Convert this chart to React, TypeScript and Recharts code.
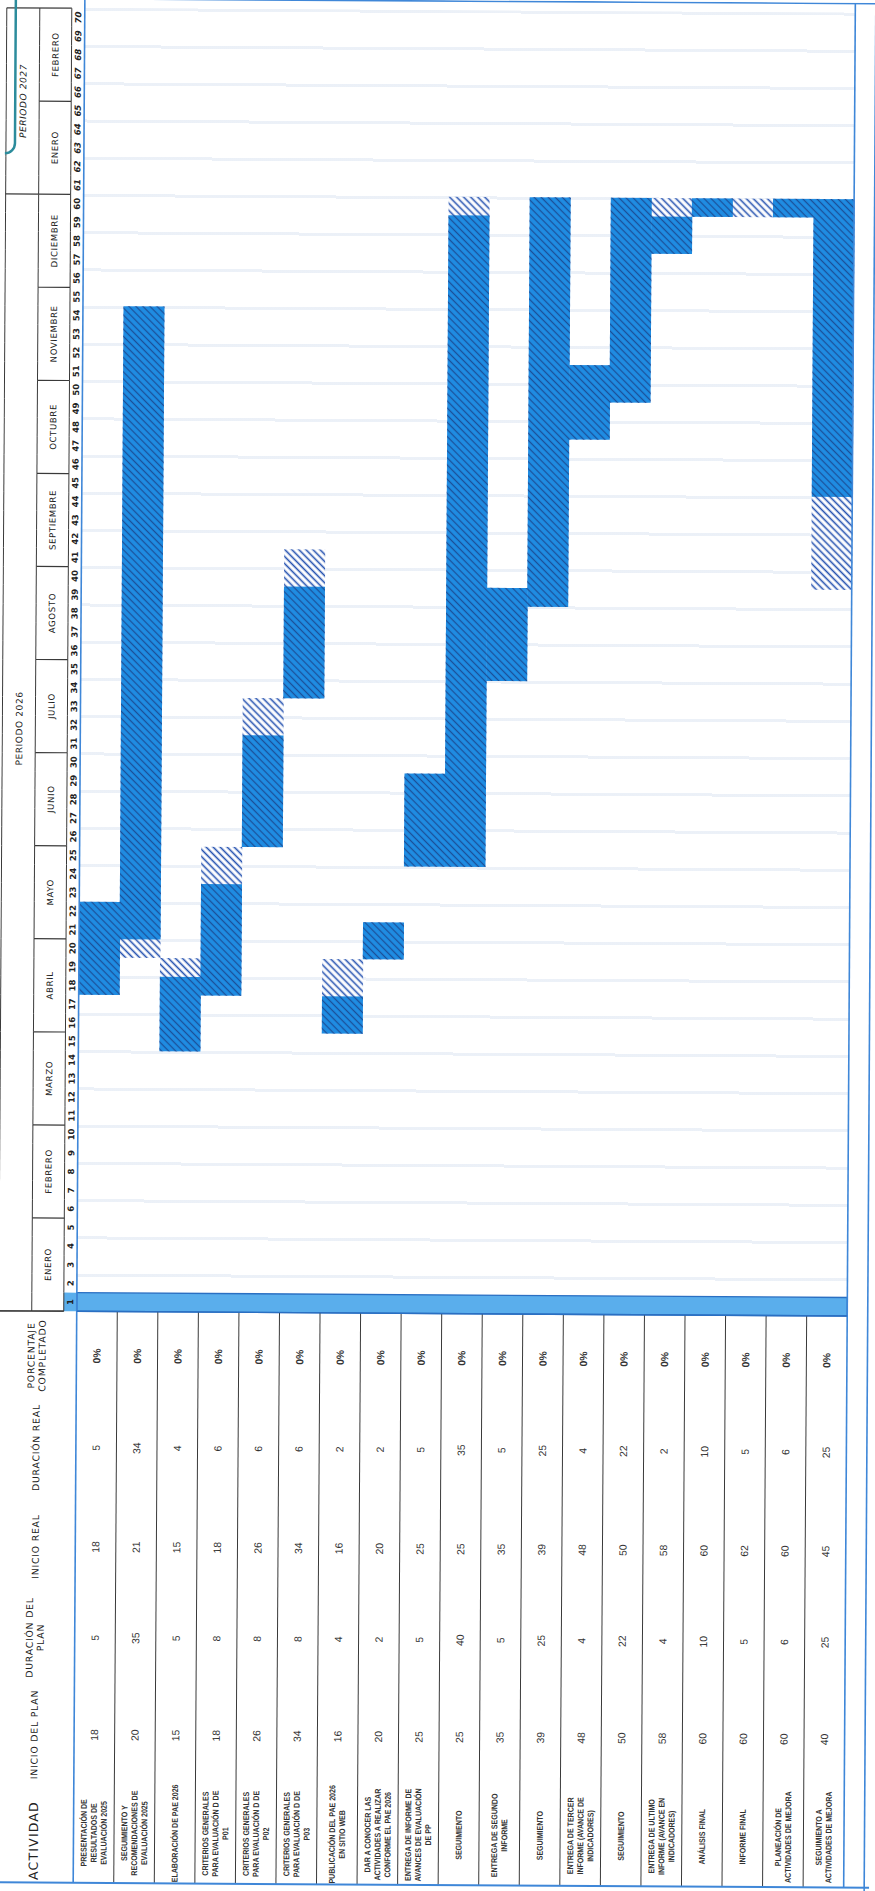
import React from 'react';
import { BarChart, Bar, XAxis, YAxis, ReferenceArea } from 'recharts';

// ---------------- data ----------------
const activities = [
  'PRESENTACIÓN DE\nRESULTADOS DE\nEVALUACIÓN 2025',
  'SEGUIMIENTO Y\nRECOMENDACIONES DE\nEVALUACIÓN 2025',
  'ELABORACIÓN DE PAE 2026',
  'CRITERIOS GENERALES\nPARA EVALUACIÓN D DE\nP01',
  'CRITERIOS GENERALES\nPARA EVALUACIÓN D DE\nP02',
  'CRITERIOS GENERALES\nPARA EVALUACIÓN D DE\nP03',
  'PUBLICACIÓN DEL PAE 2026\nEN SITIO WEB',
  'DAR A CONOCER LAS\nACTIVIDADES A REALIZAR\nCONFORME EL PAE 2026',
  'ENTREGA DE INFORME DE\nAVANCES DE EVALUACIÓN\nDE PP',
  'SEGUIMIENTO',
  'ENTREGA DE SEGUNDO\nINFORME',
  'SEGUIMIENTO',
  'ENTREGA DE TERCER\nINFORME (AVANCE DE\nINDICADORES)',
  'SEGUIMIENTO',
  'ENTREGA DE ULTIMO\nINFORME (AVANCE EN\nINDICADORES)',
  'ANÁLISIS FINAL',
  'INFORME FINAL',
  'PLANEACIÓN DE\nACTIVIDADES DE MEJORA',
  'SEGUIMIENTO A\nACTIVIDADES DE MEJORA',
];
const planStart = [18, 20, 15, 18, 26, 34, 16, 20, 25, 25, 35, 39, 48, 50, 58, 60, 60, 60, 40];
const planDuration = [5, 35, 5, 8, 8, 8, 4, 2, 5, 40, 5, 25, 4, 22, 4, 10, 5, 6, 25];
const realStart = [18, 21, 15, 18, 26, 34, 16, 20, 25, 25, 35, 39, 48, 50, 58, 60, 62, 60, 45];
const realDuration = [5, 34, 4, 6, 6, 6, 2, 2, 5, 35, 5, 25, 4, 22, 2, 10, 5, 6, 25];
const percentComplete = [0, 0, 0, 0, 0, 0, 0, 0, 0, 0, 0, 0, 0, 0, 0, 0, 0, 0, 0];

const periods = [
  1, 2, 3, 4, 5, 6, 7, 8, 9, 10, 11, 12, 13, 14, 15, 16, 17, 18, 19, 20,
  21, 22, 23, 24, 25, 26, 27, 28, 29, 30, 31, 32, 33, 34, 35, 36, 37, 38, 39, 40,
  41, 42, 43, 44, 45, 46, 47, 48, 49, 50, 51, 52, 53, 54, 55, 56, 57, 58, 59, 60,
  61, 62, 63, 64, 65, 66, 67, 68, 69, 70,
];
const months = [
  'ENERO', 'FEBRERO', 'MARZO', 'ABRIL', 'MAYO', 'JUNIO', 'JULIO', 'AGOSTO',
  'SEPTIEMBRE', 'OCTUBRE', 'NOVIEMBRE', 'DICIEMBRE', 'ENERO', 'FEBRERO',
];
const periodsPerMonth = 5;
const yearGroups = [
  { label: 'PERIODO 2026', first: 1, last: 60 },
  { label: 'PERIODO 2027', first: 61, last: 70 },
];
const lastChartedPeriod = 60; // the sheet only paints bars inside the 2026 periods
const highlightPeriod = 1;
const columnHeaders = ['INICIO DEL PLAN', 'DURACIÓN DEL\nPLAN', 'INICIO REAL', 'DURACIÓN REAL', 'PORCENTAJE\nCOMPLETADO'];

// ---------------- layout (unrotated frame: 1891 x 875) ----------------
const W = 1891;
const H = 875;
const PL = 577.5;
const PR = 1880.5;
const PT = 79;
const PB = 849.5;
const PW = (PR - PL) / 70;
const ROW_H = (PB - PT) / activities.length;
const COL_X = [154, 251, 342, 441, 533];
const ACT_X = 56;

const LINE = '#3a3a3a';
const FRAME = '#3f87d8';
const BAR_BLUE = '#1f8de3';
const HEAD_FONT = "'DejaVu Sans', 'Open Sans', sans-serif";
const LABEL_FONT = "'Liberation Sans', Arial, sans-serif";
const NUM_FONT = "'Liberation Sans', 'Open Sans', sans-serif";

function clipRange(start: number, dur: number) {
  const end = Math.min(start + dur - 1, lastChartedPeriod);
  if (end < start) return null;
  return [start - 0.5, end + 0.5];
}

const rows = activities.map((name, i) => ({
  key: 'r' + i,
  name,
  plan: clipRange(planStart[i], planDuration[i]),
  real: clipRange(realStart[i], realDuration[i]),
}));

function PeriodTick(props: any) {
  const { x, payload } = props;
  const k = payload.value as number;
  const left = x - PW / 2;
  const right = x + PW / 2;
  const els: any[] = [];
  if (k === highlightPeriod) {
    els.push(<rect key="hl" x={left} y={66} width={PW} height={PT - 66} fill="#5aaeec" />);
  }
  els.push(<line key="t" x1={left} x2={right} y1={1} y2={1} stroke={LINE} strokeWidth={1} />);
  els.push(<line key="m" x1={left} x2={right} y1={34} y2={34} stroke={LINE} strokeWidth={1} />);
  els.push(<line key="b" x1={left} x2={right} y1={66} y2={66} stroke={LINE} strokeWidth={1} />);
  els.push(
    <text key="n" x={x} y={75.5} textAnchor="middle" fontSize={8.5} fontWeight={700}
      fontStyle={k > 60 ? 'italic' : 'normal'} fill="#222" fontFamily={HEAD_FONT}>{k}</text>
  );
  if ((k - 1) % periodsPerMonth === 0) {
    const m = months[(k - 1) / periodsPerMonth];
    els.push(<line key="ml" x1={left} x2={left} y1={34} y2={66} stroke={LINE} strokeWidth={1.2} />);
    els.push(
      <text key="mt" x={left + (periodsPerMonth * PW) / 2} y={53} textAnchor="middle" fontSize={8.6}
        letterSpacing={0.6} fill="#222" fontFamily={HEAD_FONT}>{m}</text>
    );
  }
  const g = yearGroups.find((gr) => gr.first === k);
  if (g) {
    els.push(<line key="gl" x1={left} x2={left} y1={1} y2={34} stroke={LINE} strokeWidth={1.2} />);
    els.push(
      <text key="gt" x={left + ((g.last - g.first + 1) * PW) / 2 + (k === 1 ? 24 : 0)} y={21} textAnchor="middle" fontSize={9}
        fontStyle={k > 60 ? 'italic' : 'normal'} letterSpacing={0.6} fill="#222" fontFamily={HEAD_FONT}>{g.label}</text>
    );
  }
  if (k === periods[periods.length - 1]) {
    els.push(<line key="re" x1={right} x2={right} y1={1} y2={66} stroke={LINE} strokeWidth={1.2} />);
  }
  return <g>{els}</g>;
}

function RowTick(props: any) {
  const { y, index } = props;
  const i = index as number;
  const lines = activities[i].split('\n');
  const lh = 10;
  const y0 = -((lines.length - 1) * lh) / 2 + 2.9;
  const vals = [planStart[i], planDuration[i], realStart[i], realDuration[i], percentComplete[i] + '%'];
  return (
    <g>
      <g transform={`translate(${ACT_X}, ${y}) scale(0.84, 1)`}>
        {lines.map((ln, j) => (
          <text key={'l' + j} x={0} y={y0 + j * lh} textAnchor="middle" fontSize={8.4} fontWeight={700}
            fill="#333" fontFamily={LABEL_FONT}>{ln}</text>
        ))}
      </g>
      {vals.map((v, j) => (
        <text key={'v' + j} x={COL_X[j]} y={y + 3.7} textAnchor="middle" fontSize={10.4} fontWeight={j === 4 ? 700 : 400}
          fill="#333" fontFamily={NUM_FONT}>{v}</text>
      ))}
      {i < activities.length - 1 && (
        <line x1={6} x2={PL} y1={y + ROW_H / 2} y2={y + ROW_H / 2} stroke={LINE} strokeWidth={1} />
      )}
    </g>
  );
}

function Overlay() {
  return (
    <svg width={W} height={H} style={{ position: 'absolute', left: 0, top: 0, pointerEvents: 'none' }}>
      <text x={48} y={43.5} textAnchor="middle" fontSize={12.5} letterSpacing={1.2} fill="#222" fontFamily={HEAD_FONT}>ACTIVIDAD</text>
      {columnHeaders.map((h, j) => {
        const ls = h.split('\n');
        return ls.map((l, k) => (
          <text key={j + '-' + k} x={COL_X[j]} y={ls.length === 1 ? 42.5 : 37 + k * 11} textAnchor="middle"
            fontSize={9.3} letterSpacing={0.8} fill="#222" fontFamily={HEAD_FONT}>{l}</text>
        ));
      })}
      <line x1={PL} x2={PL} y1={1} y2={66} stroke={LINE} strokeWidth={1.2} />
      <line x1={6} x2={W - 1} y1={PT} y2={PT} stroke={FRAME} strokeWidth={1.6} />
      <line x1={6} x2={W - 1} y1={PB} y2={PB} stroke={FRAME} strokeWidth={1.6} />
      <line x1={W - 1} x2={W - 1} y1={PT} y2={H} stroke={FRAME} strokeWidth={1.6} />
      <line x1={PL} x2={PL} y1={PT} y2={PB} stroke="#2a6fc2" strokeWidth={1.4} />
      <line x1={6} x2={6} y1={0} y2={H} stroke={FRAME} strokeWidth={2} />
      <line x1={0} x2={W} y1={870} y2={870} stroke={FRAME} strokeWidth={1.6} />
      <rect x={1735} y={-30} width={200} height={40} rx={10} fill="none" stroke="#2c8c9c" strokeWidth={2.5} />
    </svg>
  );
}

export default function App() {
  const streak = 'rgba(200,214,234,0.35)';
  return (
    <div style={{ position: 'absolute', left: 0, top: 0, width: 875, height: 1891, overflow: 'hidden', background: '#fff' }}>
      <svg width={0} height={0} style={{ position: 'absolute' }}>
        <defs>
          <pattern id="planHatch" patternUnits="userSpaceOnUse" width={5} height={5} patternTransform="rotate(45)">
            <rect width={5} height={5} fill="#ffffff" />
            <line x1={2.5} y1={-1} x2={2.5} y2={6} stroke="#2552b0" strokeWidth={1.6} />
          </pattern>
          <pattern id="realHatch" patternUnits="userSpaceOnUse" width={5} height={5} patternTransform="rotate(45)">
            <rect width={5} height={5} fill={BAR_BLUE} />
            <line x1={2.5} y1={-1} x2={2.5} y2={6} stroke="#1b5099" strokeWidth={1.3} />
          </pattern>
        </defs>
      </svg>
      <div style={{ position: 'absolute', left: 0, top: 0, width: 875, height: 1891, transform: 'rotate(0.355deg)', transformOrigin: '437.5px 945.5px' }}>
        <div style={{ position: 'absolute', left: 0, top: 0, width: W, height: H, transformOrigin: '0 0', transform: 'translateY(1891px) rotate(-90deg)' }}>
          <div style={{
            position: 'absolute', left: PL, top: PT, width: PR - PL, height: PB - PT,
            background: `repeating-linear-gradient(90deg, transparent 0px, transparent ${2 * PW - 3}px, ${streak} ${2 * PW - 3}px, ${streak} ${2 * PW}px)`,
          }} />
          <BarChart width={W} height={H} data={rows} layout="vertical"
            margin={{ top: PT - 78, right: W - PR, bottom: H - PB, left: 6 }}
            barCategoryGap={0} barGap={0}>
            <XAxis xAxisId="p" type="number" orientation="top" domain={[0.5, 70.5]} ticks={periods} interval={0}
              height={78} tick={<PeriodTick />} axisLine={false} tickLine={false} allowDataOverflow />
            <YAxis yAxisId="a" type="category" dataKey="key" width={PL - 6} tick={<RowTick />} axisLine={false} tickLine={false} interval={0} />
            <YAxis yAxisId="b" type="category" dataKey="key" hide />
            <ReferenceArea xAxisId="p" yAxisId="a" x1={highlightPeriod - 0.5} x2={highlightPeriod + 0.5} fill="#5aaeec" fillOpacity={1}
              stroke="#2a6fc2" strokeWidth={1.4} />
            <Bar xAxisId="p" yAxisId="a" dataKey="plan" fill="url(#planHatch)" isAnimationActive={false} />
            <Bar xAxisId="p" yAxisId="b" dataKey="real" fill="url(#realHatch)" isAnimationActive={false} />
          </BarChart>
          <Overlay />
        </div>
      </div>
    </div>
  );
}
